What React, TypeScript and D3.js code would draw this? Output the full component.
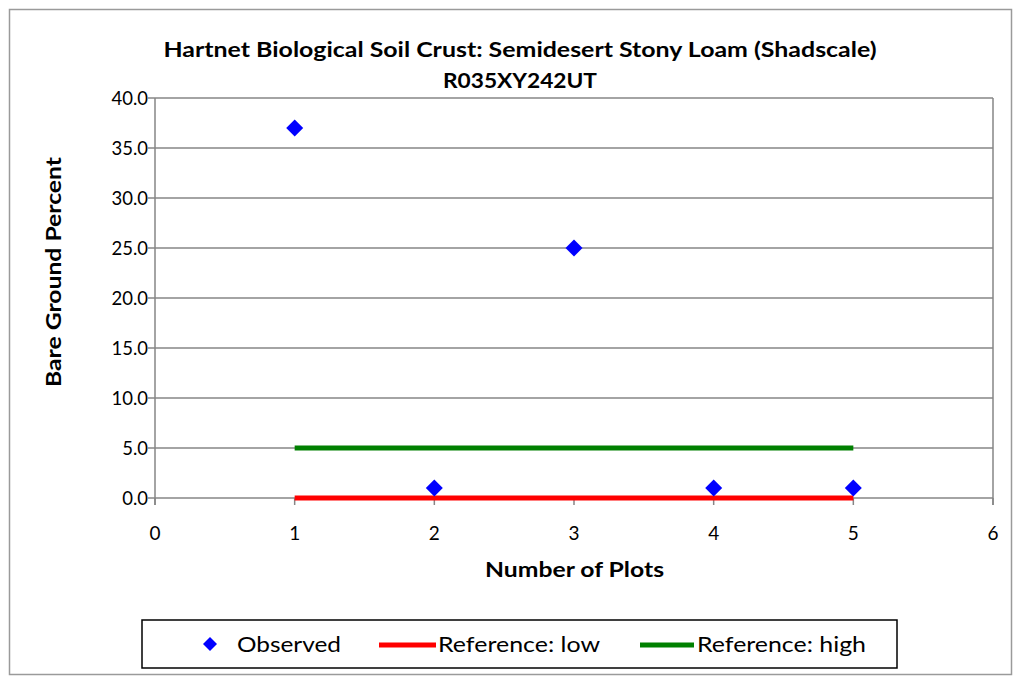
import React from "react";
import * as d3 from "d3";

const titleLines = ["Hartnet Biological Soil Crust: Semidesert Stony Loam (Shadscale)", "R035XY242UT"];
const plots = [1, 2, 3, 4, 5];
const observed = [37, 1, 25, 1, 1];
const refLow = [0, 0, 0, 0, 0];
const refHigh = [5, 5, 5, 5, 5];
const yTicks = [0, 5, 10, 15, 20, 25, 30, 35, 40];
const xTicks = [0, 1, 2, 3, 4, 5, 6];
const legendItems = ["Observed", "Reference: low", "Reference: high"];

const W = 1017;
const H = 682;
const FONT = "Lato, 'Open Sans', sans-serif";

export default function App() {
  const x = d3.scaleLinear().domain([0, 6]).range([155, 993]);
  const y = d3.scaleLinear().domain([0, 40]).range([498, 98]);
  const line = d3
    .line<[number, number]>()
    .x((d) => x(d[0]))
    .y((d) => y(d[1]));
  const lowPts = plots.map((p, i) => [p, refLow[i]] as [number, number]);
  const highPts = plots.map((p, i) => [p, refHigh[i]] as [number, number]);
  const diamond = (cx: number, cy: number, r: number) =>
    `M${cx},${cy - r}L${cx + r},${cy}L${cx},${cy + r}L${cx - r},${cy}Z`;

  const titleLens = [713, 154];
  const legendLens = [104, 162, 169];

  return (
    <svg
      width={W}
      height={H}
      style={{ position: "absolute", left: 0, top: 0, background: "#fff" }}
      fontFamily={FONT}
    >
      <rect x={0} y={0} width={W} height={H} fill="#fff" />
      <rect x={9.5} y={9.5} width={1002} height={665} fill="#fff" stroke="#9a9a9a" strokeWidth={1.5} />
      {titleLines.map((t, i) => (
        <text
          key={i}
          x={520 - titleLens[i] / 2}
          y={57 + i * 31}
          fontSize={21}
          fontWeight="bold"
          fill="#000"
          textLength={titleLens[i]}
          lengthAdjust="spacingAndGlyphs"
        >
          {t}
        </text>
      ))}
      {yTicks.map((t) => (
        <line key={t} x1={x(0) - 7} x2={x(6)} y1={y(t)} y2={y(t)} stroke="#868686" strokeWidth={1.5} />
      ))}
      <line x1={x(0)} x2={x(0)} y1={y(40)} y2={y(0) + 7} stroke="#868686" strokeWidth={1.5} />
      <line x1={x(6)} x2={x(6)} y1={y(40)} y2={y(0) + 7} stroke="#868686" strokeWidth={1.5} />
      {xTicks.map((t) => (
        <line key={t} x1={x(t)} x2={x(t)} y1={y(0)} y2={y(0) + 7} stroke="#868686" strokeWidth={1.5} />
      ))}
      {yTicks.map((t) => (
        <text key={t} x={148} y={y(t) + 6.5} textAnchor="end" fontSize={18.5} fill="#000">
          {t.toFixed(1)}
        </text>
      ))}
      {xTicks.map((t) => (
        <text key={t} x={x(t)} y={540} textAnchor="middle" fontSize={19} fill="#000">
          {t}
        </text>
      ))}
      <text
        x={485}
        y={577}
        fontSize={21}
        fontWeight="bold"
        textLength={179}
        lengthAdjust="spacingAndGlyphs"
      >
        Number of Plots
      </text>
      <text
        transform={`translate(61,${272}) rotate(-90)`}
        x={-115}
        y={0}
        fontSize={21}
        fontWeight="bold"
        textLength={230}
        lengthAdjust="spacingAndGlyphs"
      >
        Bare Ground Percent
      </text>
      <path d={line(lowPts) ?? ""} fill="none" stroke="#ff0000" strokeWidth={5} />
      <path d={line(highPts) ?? ""} fill="none" stroke="#008000" strokeWidth={5} />
      {plots.map((p, i) => (
        <path key={p} d={diamond(x(p), y(observed[i]), 8.5)} fill="#0000ff" />
      ))}
      <rect x={142} y={620} width={755} height={48} fill="#fff" stroke="#000" strokeWidth={1.5} />
      <path d={diamond(210, 644, 7)} fill="#0000ff" />
      <text x={237} y={652} fontSize={22} textLength={legendLens[0]} lengthAdjust="spacingAndGlyphs">
        {legendItems[0]}
      </text>
      <line x1={379} x2={436} y1={645} y2={645} stroke="#ff0000" strokeWidth={5} />
      <text x={438} y={652} fontSize={22} textLength={legendLens[1]} lengthAdjust="spacingAndGlyphs">
        {legendItems[1]}
      </text>
      <line x1={640} x2={694} y1={645} y2={645} stroke="#008000" strokeWidth={5} />
      <text x={697} y={652} fontSize={22} textLength={legendLens[2]} lengthAdjust="spacingAndGlyphs">
        {legendItems[2]}
      </text>
    </svg>
  );
}
